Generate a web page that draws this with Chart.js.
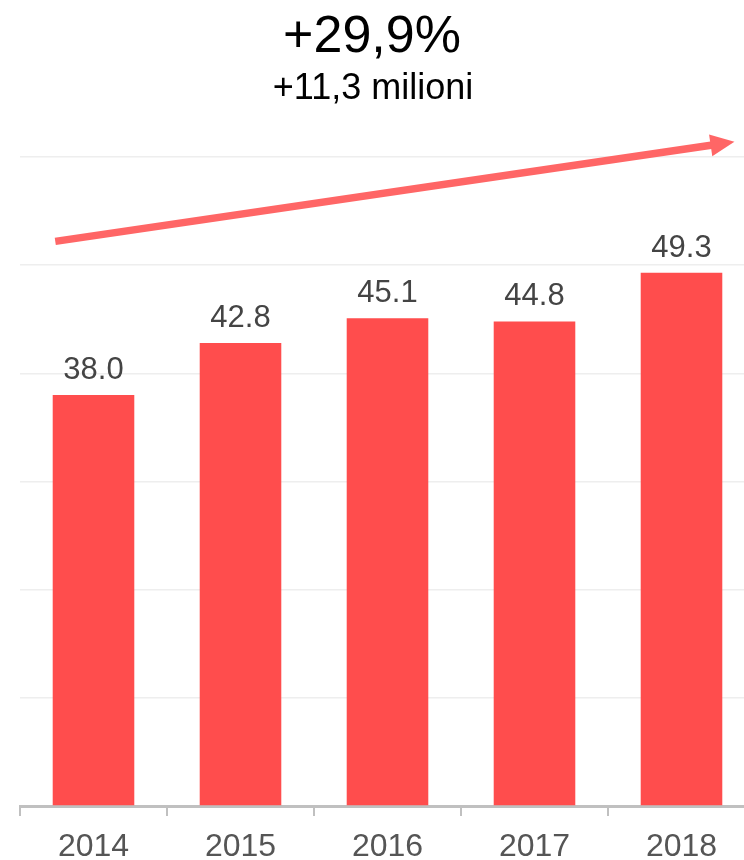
<!DOCTYPE html>
<html>
<head>
<meta charset="utf-8">
<script src="https://cdn.jsdelivr.net/npm/chart.js@4"></script>
<style>
  html, body { margin: 0; padding: 0; background: #fff; overflow: hidden; }
  #wrap { width: 764px; height: 878px; }
</style>
</head>
<body>
<div id="wrap"><canvas id="grafico"></canvas></div>
<script>
var anni = ['2014', '2015', '2016', '2017', '2018'];
var valori = [38.0, 42.8, 45.1, 44.8, 49.3];
var titolo = '+29,9%';
var sottotitolo = '+11,3 milioni';
// freccia di tendenza (in unità del grafico)
var frecciaDa = { x: -0.26, y: 52.2 };
var frecciaA = { x: 4.36, y: 61.4 };

// etichette sopra le barre
var etichettePlugin = {
    id: 'etichette',
    afterDatasetsDraw: function(chart) {
        var ctx = chart.ctx;
        var meta = chart.getDatasetMeta(0);
        ctx.save();
        ctx.font = '31px "Liberation Sans", Arial, sans-serif';
        ctx.fillStyle = '#444444';
        ctx.textAlign = 'center';
        ctx.textBaseline = 'alphabetic';
        meta.data.forEach(function(bar, i) {
            ctx.fillText(valori[i].toFixed(1), bar.x, bar.y - 16);
        });
        ctx.restore();
    }
};

// titolo e sottotitolo, centrati sulla pagina visibile
var titoloPlugin = {
    id: 'titolo',
    afterDraw: function(chart) {
        var ctx = chart.ctx;
        ctx.save();
        ctx.fillStyle = '#000000';
        ctx.textAlign = 'center';
        ctx.textBaseline = 'alphabetic';
        ctx.font = '52px "Liberation Sans", Arial, sans-serif';
        ctx.fillText(titolo, 372, 52);
        ctx.font = '36px "Liberation Sans", Arial, sans-serif';
        ctx.fillText(sottotitolo, 373, 99);
        ctx.restore();
    }
};

// freccia
var frecciaPlugin = {
    id: 'freccia',
    afterDraw: function(chart) {
        var x = chart.scales.x, y = chart.scales.y;
        var x1 = x.getPixelForValue(frecciaDa.x), y1 = y.getPixelForValue(frecciaDa.y);
        var x2 = x.getPixelForValue(frecciaA.x), y2 = y.getPixelForValue(frecciaA.y);
        var ang = Math.atan2(y2 - y1, x2 - x1);
        var testa = 24, meta = 11;
        var bx = x2 - testa * Math.cos(ang), by = y2 - testa * Math.sin(ang);
        var ctx = chart.ctx;
        ctx.save();
        ctx.strokeStyle = '#ff6666';
        ctx.fillStyle = '#ff6666';
        ctx.lineWidth = 7.5;
        ctx.beginPath();
        ctx.moveTo(x1, y1);
        ctx.lineTo(bx + 2 * Math.cos(ang), by + 2 * Math.sin(ang));
        ctx.stroke();
        ctx.beginPath();
        ctx.moveTo(x2, y2);
        ctx.lineTo(bx + meta * Math.sin(ang), by - meta * Math.cos(ang));
        ctx.lineTo(bx - meta * Math.sin(ang), by + meta * Math.cos(ang));
        ctx.closePath();
        ctx.fill();
        ctx.restore();
    }
};

document.addEventListener('DOMContentLoaded', function() {
    var ctx = document.getElementById('grafico').getContext('2d');
    new Chart(ctx, {
        type: 'bar',
        data: {
            labels: anni,
            datasets: [{
                data: valori,
                backgroundColor: '#ff4d4d',
                borderWidth: 0,
                categoryPercentage: 1.0,
                barPercentage: 0.555
            }]
        },
        options: {
            responsive: true,
            maintainAspectRatio: false,
            animation: false,
            layout: { padding: { left: 20, right: 9, top: 157, bottom: 0 } },
            plugins: {
                legend: { display: false },
                tooltip: { enabled: false }
            },
            scales: {
                x: {
                    grid: {
                        offset: true,
                        drawOnChartArea: false,
                        color: '#c0c0c0',
                        lineWidth: 2,
                        tickLength: 10
                    },
                    border: { color: '#c0c0c0', width: 3 },
                    ticks: {
                        color: '#555555',
                        padding: 8,
                        font: { family: '"Liberation Sans", Arial, sans-serif', size: 32, lineHeight: 1.4375 }
                    }
                },
                y: {
                    min: 0,
                    max: 60,
                    ticks: { display: false, stepSize: 10 },
                    border: { display: false },
                    grid: { color: '#eeeeee', lineWidth: 1.5, drawTicks: false }
                }
            }
        },
        plugins: [etichettePlugin, frecciaPlugin, titoloPlugin]
    });
});
</script>
</body>
</html>
